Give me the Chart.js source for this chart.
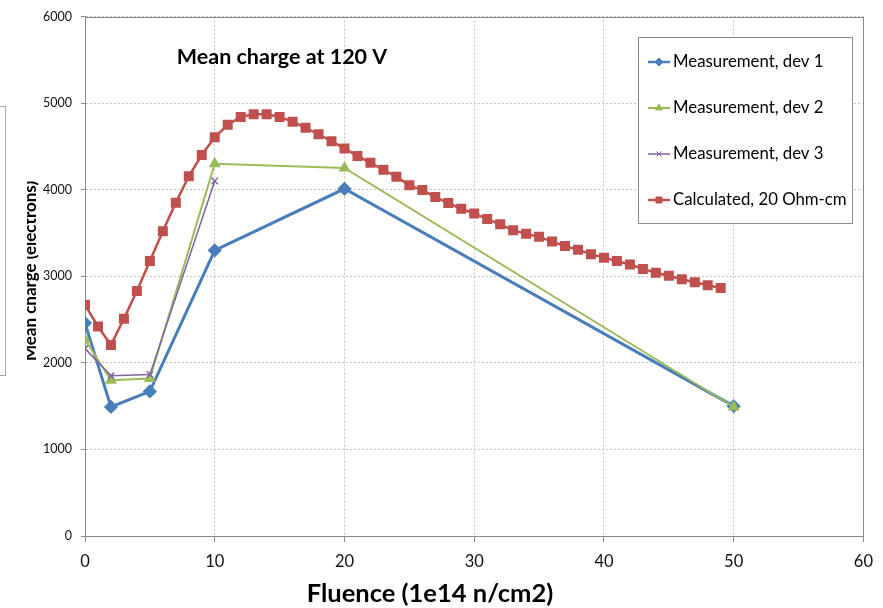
<!DOCTYPE html>
<html>
<head>
<meta charset="utf-8">
<script src="https://cdn.jsdelivr.net/npm/chart.js@4.4.1/dist/chart.umd.min.js"></script>
<style>
  html, body { margin: 0; padding: 0; background: #fff; }
  #chart { display: block; }
</style>
</head>
<body>
<canvas id="chart" width="883" height="608"></canvas>
<script>
const FONT = "Lato, 'Liberation Sans', sans-serif";

// measured devices
const fluenceMeas = [0, 2, 5, 10, 20, 50];
const dev1 = [2460, 1490, 1670, 3300, 4010, 1500];
const dev2 = [2270, 1800, 1820, 4300, 4250, 1490];
const fluenceDev3 = [0, 2, 5, 10];
const dev3 = [2165, 1850, 1865, 4100];

// calculated curve, 20 Ohm-cm
const fluenceCalc = [0, 1, 2, 3, 4, 5, 6, 7, 8, 9, 10, 11, 12, 13, 14, 15, 16, 17, 18, 19,
  20, 21, 22, 23, 24, 25, 26, 27, 28, 29, 30, 31, 32, 33, 34, 35, 36, 37, 38, 39,
  40, 41, 42, 43, 44, 45, 46, 47, 48, 49];
const calc = [2670, 2420, 2205, 2510, 2830, 3175, 3520, 3850, 4155, 4400,
  4605, 4750, 4840, 4870, 4870, 4840, 4785, 4715, 4640, 4560,
  4475, 4390, 4310, 4230, 4150, 4050, 3995, 3915, 3845, 3780,
  3725, 3660, 3600, 3530, 3490, 3455, 3400, 3350, 3305, 3255,
  3215, 3175, 3135, 3085, 3040, 3005, 2965, 2930, 2895, 2865];

const seriesNames = ["Measurement, dev 1", "Measurement, dev 2", "Measurement, dev 3", "Calculated, 20 Ohm-cm"];
const xTicks = [0, 10, 20, 30, 40, 50, 60];
const yTicks = [0, 1000, 2000, 3000, 4000, 5000, 6000];

const toPoints = (xs, ys) => xs.map((x, i) => ({ x: x, y: ys[i] }));

const extrasPlugin = {
  id: "excelExtras",
  beforeDatasetsDraw: (chart) => {
    const { ctx, chartArea } = chart;
    // solid frame on top and right edge
    ctx.save();
    ctx.strokeStyle = "#8a8a8a";
    ctx.lineWidth = 1;
    ctx.beginPath();
    ctx.moveTo(chartArea.left, Math.round(chartArea.top) + 0.5);
    ctx.lineTo(Math.round(chartArea.right) + 0.5, Math.round(chartArea.top) + 0.5);
    ctx.lineTo(Math.round(chartArea.right) + 0.5, chartArea.bottom);
    ctx.stroke();
    ctx.restore();
  },
  afterDraw: (chart) => {
    const { ctx } = chart;
    ctx.save();
    ctx.fillStyle = "#000";
    ctx.textAlign = "center";
    ctx.textBaseline = "middle";
    ctx.font = "bold 21.5px " + FONT;
    ctx.fillText("Mean charge at 120 V", 282, 57);
    ctx.font = "bold 25.5px " + FONT;
    ctx.fillText("Fluence (1e14 n/cm2)", 430, 594);

    // stray box on the left edge
    ctx.strokeStyle = "#a6a6a6";
    ctx.lineWidth = 1;
    ctx.strokeRect(-10.5, 106.5, 16, 269);

    // y title, partly cut off
    ctx.save();
    ctx.beginPath();
    ctx.rect(27, 0, 60, 608);
    ctx.clip();
    ctx.translate(35.5, 271);
    ctx.rotate(-Math.PI / 2);
    ctx.font = "bold 17px " + FONT;
    ctx.textBaseline = "alphabetic";
    ctx.fillText("Mean charge (electrons)", 0, 0);
    ctx.restore();

    // legend
    const box = { left: 638, top: 37, right: 852, bottom: 223 };
    ctx.fillStyle = "#fff";
    ctx.fillRect(box.left, box.top, box.right - box.left, box.bottom - box.top);
    ctx.strokeStyle = "#8c8c8c";
    ctx.strokeRect(box.left + 0.5, box.top + 0.5, box.right - box.left, box.bottom - box.top);
    const rows = [62, 108, 154, 200];
    chart.data.datasets.forEach((ds, i) => {
      const y = rows[i];
      ctx.strokeStyle = ds.borderColor;
      ctx.lineWidth = Math.min(ds.borderWidth, 2.5);
      ctx.beginPath();
      ctx.moveTo(648, y);
      ctx.lineTo(670, y);
      ctx.stroke();
      ctx.fillStyle = ds.pointBackgroundColor;
      ctx.strokeStyle = ds.borderColor;
      ctx.lineWidth = 1;
      Chart.helpers.drawPoint(ctx, { pointStyle: ds.pointStyle, radius: ds.pointRadius * 0.8, borderWidth: 1, rotation: 0 }, 659, y);
      ctx.fillStyle = "#000";
      ctx.textAlign = "left";
      ctx.textBaseline = "middle";
      ctx.font = "16.8px " + FONT;
      ctx.fillText(ds.label, 673, y);
    });
    ctx.restore();
  },
};

const ctx = document.getElementById("chart").getContext("2d");
const chart = new Chart(ctx, {
  type: "line",
  data: {
    datasets: [
      {
        label: seriesNames[0],
        data: toPoints(fluenceMeas, dev1),
        borderColor: "#4a7ebb",
        backgroundColor: "#4a7ebb",
        pointBackgroundColor: "#4a7ebb",
        borderWidth: 3,
        pointStyle: "rectRot",
        pointRadius: 5,
        order: 4,
      },
      {
        label: seriesNames[1],
        data: toPoints(fluenceMeas, dev2),
        borderColor: "#9bbb59",
        backgroundColor: "#9bbb59",
        pointBackgroundColor: "#9bbb59",
        borderWidth: 2,
        pointStyle: "triangle",
        pointRadius: 5,
        order: 3,
      },
      {
        label: seriesNames[2],
        data: toPoints(fluenceDev3, dev3),
        borderColor: "#8064a2",
        backgroundColor: "#8064a2",
        pointBackgroundColor: "#8064a2",
        borderWidth: 1.5,
        pointStyle: "crossRot",
        pointRadius: 4.5,
        order: 2,
      },
      {
        label: seriesNames[3],
        data: toPoints(fluenceCalc, calc),
        borderColor: "#c0504d",
        backgroundColor: "#c0504d",
        pointBackgroundColor: "#c0504d",
        borderWidth: 2.5,
        pointStyle: "rect",
        pointRadius: 5.3,
        order: 1,
      },
    ],
  },
  options: {
    responsive: false,
    animation: false,
    layout: { padding: { left: 0, top: 12, right: 12, bottom: 0 } },
    elements: {
      line: { tension: 0, fill: false },
      point: { borderWidth: 1, hoverRadius: 5 },
    },
    plugins: {
      legend: { display: false },
      title: { display: false },
      tooltip: { enabled: false },
    },
    scales: {
      x: {
        type: "linear",
        min: 0,
        max: 60,
        afterBuildTicks: (scale) => { scale.ticks = xTicks.map((v) => ({ value: v })); },
        afterFit: (scale) => { scale.height = 72; },
        grid: { color: "#c4c4c4", lineWidth: 1, tickLength: 6, tickColor: "#8a8a8a" },
        border: { display: true, color: "#8a8a8a", width: 1, dash: [2, 2] },
        ticks: { color: "#111", padding: 10, font: { family: FONT, size: 16.5 }, maxRotation: 0, callback: (v) => String(v) },
      },
      y: {
        type: "linear",
        min: 0,
        max: 6000,
        afterBuildTicks: (scale) => { scale.ticks = yTicks.map((v) => ({ value: v })); },
        afterFit: (scale) => { scale.width = 85; },
        grid: { color: "#c4c4c4", lineWidth: 1, tickLength: 4, tickColor: "#8a8a8a" },
        border: { display: true, color: "#8a8a8a", width: 1, dash: [2, 2] },
        ticks: { color: "#111", padding: 9, font: { family: FONT, size: 12.5 }, callback: (v) => String(v) },
      },
    },
  },
  plugins: [extrasPlugin],
});
</script>
</body>
</html>
